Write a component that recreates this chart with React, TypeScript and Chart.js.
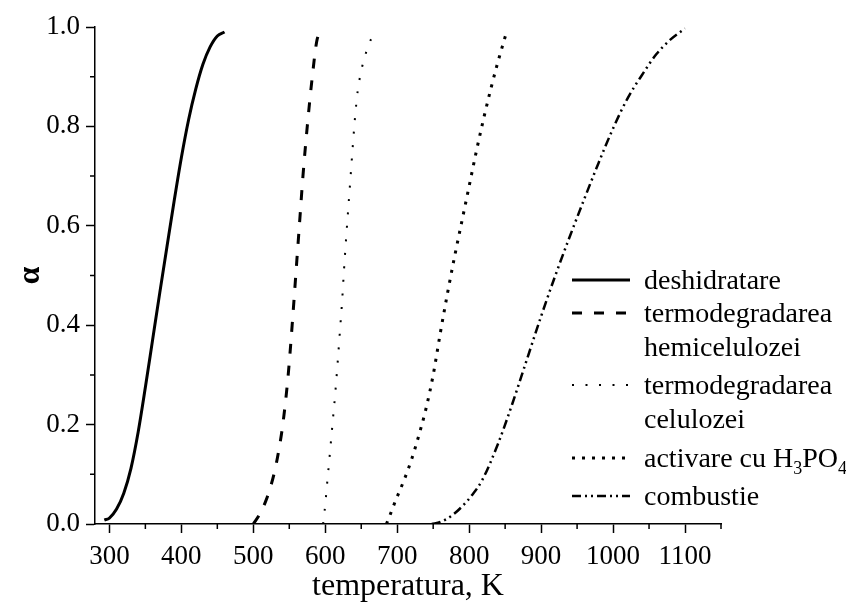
import { useEffect, useRef } from 'react';
import { Chart, registerables } from 'chart.js';
Chart.register(...registerables);

// ---------- data ----------
const deshT = [293, 300, 310, 320, 330, 340, 350, 360, 370, 380, 390, 400, 410, 420, 430, 440, 450, 460];
const deshA = [0.008, 0.012, 0.03, 0.062, 0.112, 0.185, 0.275, 0.37, 0.465, 0.558, 0.65, 0.737, 0.813, 0.875, 0.925, 0.96, 0.982, 0.99];

const hemiT = [500, 509, 517, 524, 530, 535, 541, 548.5, 554, 559, 564, 569, 575, 582, 588, 592];
const hemiA = [0, 0.02, 0.045, 0.075, 0.108, 0.145, 0.2, 0.3, 0.4, 0.5, 0.6, 0.7, 0.8, 0.9, 0.97, 0.99];

const celT = [597, 599, 601, 603, 606, 610, 614, 617.5, 620.5, 623.5, 626, 629, 632.5, 635.5, 638.5, 641.5, 645, 649, 653, 657, 661, 667];
const celA = [0, 0.025, 0.055, 0.088, 0.135, 0.2, 0.265, 0.33, 0.39, 0.45, 0.51, 0.575, 0.645, 0.705, 0.765, 0.82, 0.87, 0.905, 0.93, 0.95, 0.967, 0.985];

const actT = [685, 690, 695, 700, 710, 720, 730, 740, 750, 760, 770, 780, 790, 800, 810, 820, 830, 840, 852];
const actA = [0, 0.018, 0.037, 0.055, 0.09, 0.13, 0.178, 0.232, 0.3, 0.385, 0.465, 0.54, 0.61, 0.68, 0.75, 0.815, 0.875, 0.93, 0.99];

const combT = [748, 760, 775, 790, 805, 818, 840, 860, 880, 900, 920, 940, 960, 980, 1000, 1020, 1040, 1060, 1080, 1100];
const combA = [0, 0.004, 0.016, 0.035, 0.06, 0.088, 0.161, 0.242, 0.33, 0.418, 0.501, 0.579, 0.654, 0.727, 0.796, 0.856, 0.903, 0.945, 0.975, 0.997];

const xTicks = [300, 400, 500, 600, 700, 800, 900, 1000, 1100];
const xMinorTicks = [350, 450, 550, 650, 750, 850, 950, 1050, 1150];
const yTicks = [0, 0.2, 0.4, 0.6, 0.8, 1.0];
const yMinorTicks = [0.1, 0.3, 0.5, 0.7, 0.9];

// legend labels: each entry may have several lines; a line is a list of [text, isSubscript]
const legendLabels: [string, boolean][][][] = [
  [[['deshidratare', false]]],
  [[['termodegradarea', false]], [['hemicelulozei', false]]],
  [[['termodegradarea', false]], [['celulozei', false]]],
  [[['activare cu H', false], ['3', true], ['PO', false], ['4', true]]],
  [[['combustie', false]]],
];

const xTitle = 'temperatura, K';
const yTitle = 'α';

// ---------- styles ----------
const FONT = '"Liberation Serif", "Times New Roman", serif';
const seriesStyle = [
  { width: 3, dash: [] as number[] },
  { width: 3, dash: [10, 12] },
  { width: 2, dash: [2, 11.5] },
  { width: 3, dash: [3, 7] },
  { width: 2.5, dash: [9, 4, 2, 4, 2, 4] },
];
const legendRowY = [280, 313, 385, 458, 496];
const legendLineGap = 34;
const legendX1 = 572;
const legendX2 = 630;
const legendTextX = 644;

const toPts = (xs: number[], ys: number[]) => xs.map((x, i) => ({ x, y: ys[i] }));

const minorTickPlugin = {
  id: 'minorTicks',
  afterDraw(chart: any) {
    const { ctx, chartArea } = chart;
    const x = chart.scales.x;
    const y = chart.scales.y;
    ctx.save();
    ctx.strokeStyle = '#000';
    ctx.lineWidth = 1.5;
    ctx.beginPath();
    xMinorTicks.forEach((v) => {
      const px = x.getPixelForValue(v);
      ctx.moveTo(px, chartArea.bottom);
      ctx.lineTo(px, chartArea.bottom + 5);
    });
    yMinorTicks.forEach((v) => {
      const py = y.getPixelForValue(v);
      ctx.moveTo(chartArea.left, py);
      ctx.lineTo(chartArea.left - 5, py);
    });
    ctx.stroke();
    ctx.restore();
  },
};

const legendPlugin = {
  id: 'customLegend',
  afterDraw(chart: any) {
    const { ctx } = chart;
    ctx.save();
    ctx.fillStyle = '#000';
    ctx.textBaseline = 'alphabetic';
    legendLabels.forEach((lines, i) => {
      const yc = legendRowY[i];
      const st = seriesStyle[i];
      ctx.strokeStyle = '#000';
      ctx.lineWidth = st.width;
      ctx.setLineDash(st.dash);
      ctx.beginPath();
      ctx.moveTo(legendX1, yc);
      ctx.lineTo(legendX2, yc);
      ctx.stroke();
      ctx.setLineDash([]);
      lines.forEach((parts, li) => {
        const base = yc + li * legendLineGap + 9;
        let x = legendTextX;
        parts.forEach(([t, sub]) => {
          ctx.font = sub ? `18px ${FONT}` : `28px ${FONT}`;
          ctx.fillText(t, x, sub ? base + 7 : base);
          x += ctx.measureText(t).width;
        });
      });
    });
    ctx.restore();
  },
};

export default function App() {
  const ref = useRef<HTMLCanvasElement | null>(null);
  useEffect(() => {
    if (!ref.current) return;
    const all = [
      toPts(deshT, deshA),
      toPts(hemiT, hemiA),
      toPts(celT, celA),
      toPts(actT, actA),
      toPts(combT, combA),
    ];
    const chart = new Chart(ref.current, {
      type: 'line',
      data: {
        datasets: all.map((d, i) => ({
          label: legendLabels[i].map((l) => l.map((p) => p[0]).join('')).join(' '),
          data: d,
          borderColor: '#000',
          borderWidth: seriesStyle[i].width,
          borderDash: seriesStyle[i].dash,
          pointRadius: 0,
          fill: false,
          cubicInterpolationMode: 'monotone' as const,
        })),
      },
      options: {
        animation: false,
        responsive: false,
        layout: { padding: { top: 27, right: 125, bottom: 0, left: 0 }, autoPadding: false } as any,
        plugins: { legend: { display: false }, tooltip: { enabled: false } },
        scales: {
          x: {
            type: 'linear',
            min: 280,
            max: 1150,
            afterBuildTicks: (s: any) => {
              s.ticks = xTicks.map((v) => ({ value: v }));
            },
            afterFit: (s: any) => {
              s.height = 82;
            },
            grid: { display: true, drawOnChartArea: false, drawTicks: true, tickLength: 9, tickWidth: 1.5, tickColor: '#000' },
            border: { display: true, color: '#000', width: 1.5 },
            ticks: { color: '#000', font: { family: FONT, size: 27 }, padding: 8, maxRotation: 0, autoSkip: false, callback: (v: any) => String(v) },
            title: { display: true, text: xTitle, color: '#000', font: { family: FONT, size: 32 }, padding: { top: 0, bottom: 0 } },
          },
          y: {
            type: 'linear',
            min: 0,
            max: 1,
            afterBuildTicks: (s: any) => {
              s.ticks = yTicks.map((v) => ({ value: v }));
            },
            afterFit: (s: any) => {
              s.width = 95;
            },
            grid: { display: true, drawOnChartArea: false, drawTicks: true, tickLength: 9, tickWidth: 1.5, tickColor: '#000' },
            border: { display: true, color: '#000', width: 1.5 },
            ticks: { color: '#000', font: { family: FONT, size: 27 }, padding: 6, callback: (v: any) => Number(v).toFixed(1) },
            title: { display: true, text: yTitle, color: '#000', font: { family: FONT, size: 32, weight: 'bold' }, padding: { top: 12, bottom: 0 } },
          },
        },
      },
      plugins: [minorTickPlugin, legendPlugin],
    });
    return () => chart.destroy();
  }, []);
  return (
    <div style={{ position: 'fixed', left: 0, top: 0, width: 846, height: 606, background: '#fff' }}>
      <canvas ref={ref} width={846} height={606} style={{ display: 'block' }} />
    </div>
  );
}
